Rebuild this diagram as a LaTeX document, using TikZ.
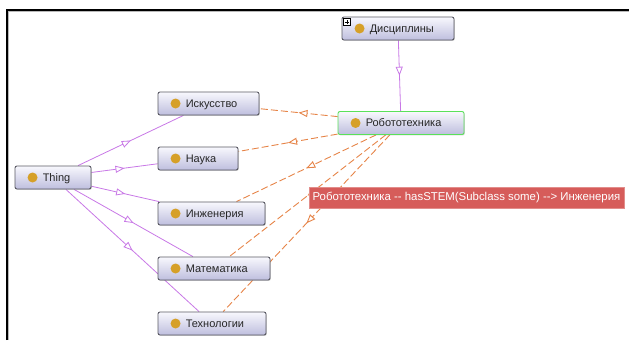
\documentclass[tikz,border=0pt]{standalone}
\usepackage{fontspec}
\setmainfont{Liberation Sans}
\usetikzlibrary{arrows.meta,decorations.markings,shadows,backgrounds}
\definecolor{boxdraw}{RGB}{90,90,100}
\definecolor{boxtop}{RGB}{248,248,253}
\definecolor{boxbot}{RGB}{190,190,222}
\definecolor{dotc}{RGB}{214,160,40}
\definecolor{selgreen}{RGB}{90,225,90}
\definecolor{isa}{RGB}{200,120,230}
\definecolor{rel}{RGB}{230,132,72}
\definecolor{tipred}{RGB}{214,92,90}
\tikzset{
  cls/.style={rectangle, rounded corners=2pt, draw=boxdraw, line width=0.9pt,
    top color=boxtop, bottom color=boxbot, minimum height=23pt, inner sep=0pt,
    drop shadow={shadow xshift=0.8pt, shadow yshift=-0.9pt, opacity=0.35}},
  lbl/.style={anchor=base west, inner sep=0pt, font=\fontsize{11}{12}\selectfont, text=black!85},
  isaedge/.style={draw=isa, line width=0.8pt, postaction={decorate},
    decoration={markings, mark=at position 0.5 with {\arrow{Triangle[length=9pt,width=7pt,fill=white]}}}},
  reledge/.style={draw=rel, line width=0.9pt, dash pattern=on 7pt off 3pt, postaction={decorate},
    decoration={markings, mark=at position 0.5 with {\arrow{Triangle[length=9pt,width=7pt,fill=white]}}}},
  tipbox/.style={rectangle, fill=tipred, draw=tipred!70!white, line width=0.6pt, text=white,
    minimum width=315pt, minimum height=21pt, inner sep=0pt, font=\fontsize{11.4}{12}\selectfont,
    drop shadow={shadow xshift=1pt, shadow yshift=-1pt, opacity=0.3}}
}
\newcommand\owlclass[6][boxdraw]{%
  \node[cls, draw=#1, minimum width=#5pt] (#2) at (#3,#4) {};
  \fill[dotc] ([xshift=18pt]#2.west) circle (5pt);
  \node[lbl] (#2-t) at ([xshift=28pt,yshift=-3.9pt]#2.west) {#6};
}
\begin{document}
\begin{tikzpicture}[x=1pt,y=-1pt]
\useasboundingbox (0,0) rectangle (629,340);
% frame
\draw[gray!55, line width=1pt] (8.3,340) -- (8.3,11.5) -- (629,11.5);
\draw[black, line width=1.5pt] (7,340) -- (7,10.2) -- (629,10.2);
% classes
\owlclass{disc}{398}{28.5}{112}{Дисциплины}
\owlclass[selgreen]{robo}{401}{123}{126}{Робототехника}
\owlclass{isk}{208.5}{103.5}{101}{Искусство}
\owlclass{nauka}{198}{158.5}{80}{Наука}
\owlclass{thing}{53}{177.5}{76}{Thing}
\owlclass{inzh}{211.5}{213.5}{107}{Инженерия}
\owlclass{mat}{214}{268.5}{112}{Математика}
\owlclass{tech}{212}{323.5}{108}{Технологии}
% expand marker
\node[draw=black, fill=white, line width=0.5pt, minimum size=7pt, inner sep=0pt] (plus) at (347,22) {};
\draw[line width=0.6pt] ([xshift=-2.3pt]plus.center) -- ([xshift=2.3pt]plus.center);
\draw[line width=0.6pt] ([yshift=-2.3pt]plus.center) -- ([yshift=2.3pt]plus.center);
% edges
\begin{pgfonlayer}{background}
\draw[isaedge] (disc) -- (robo);
\draw[isaedge] (thing) -- (isk);
\draw[isaedge] (thing) -- (nauka);
\draw[isaedge] (thing) -- (inzh);
\draw[isaedge] (thing) -- (mat);
\draw[isaedge] (thing) -- (tech);
\draw[reledge] (robo) -- (isk);
\draw[reledge] (robo) -- (nauka);
\draw[reledge] (robo) -- (inzh);
\draw[reledge] (robo) -- (mat);
\draw[reledge] (robo) -- (tech);
\end{pgfonlayer}
% tooltip
\node[tipbox] (note) at (466.5,197.5) {Робототехника -{}- hasSTEM(Subclass some) -{}-> Инженерия};
\end{tikzpicture}
\end{document}
